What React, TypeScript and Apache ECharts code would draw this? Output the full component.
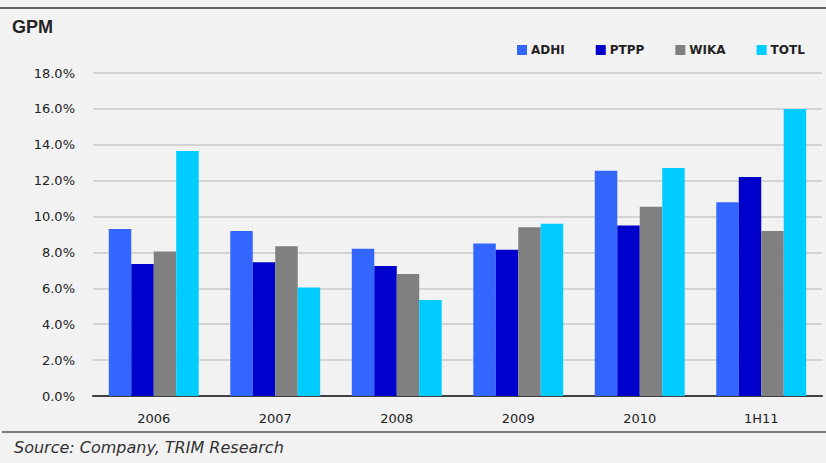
import React, { useEffect, useRef } from "react";
import * as echarts from "echarts";

const categories = ["2006", "2007", "2008", "2009", "2010", "1H11"];
const adhi = [9.3, 9.2, 8.2, 8.5, 12.55, 10.8];
const ptpp = [7.35, 7.45, 7.25, 8.15, 9.5, 12.2];
const wika = [8.05, 8.35, 6.8, 9.4, 10.55, 9.2];
const totl = [13.65, 6.05, 5.35, 9.6, 12.7, 16.0];
const seriesNames = ["ADHI", "PTPP", "WIKA", "TOTL"];
const seriesColors = ["#3366ff", "#0000cc", "#808080", "#00ccff"];

export default function App() {
  const ref = useRef<HTMLDivElement>(null);
  useEffect(() => {
    if (!ref.current) return;
    const chart = echarts.init(ref.current, null, { renderer: "svg" });
    const wide = "'DejaVu Sans', 'Liberation Sans', sans-serif";
    const narrow = "'Liberation Sans', Arial, sans-serif";
    const data = [adhi, ptpp, wika, totl];
    chart.setOption({
      animation: false,
      backgroundColor: "#f2f2f2",
      textStyle: { fontFamily: wide },
      grid: { left: 93, right: 4, top: 73, bottom: 67 },
      legend: {
        left: 512,
        top: 39,
        itemWidth: 10,
        itemHeight: 10,
        itemGap: 31,
        icon: "rect",
        data: seriesNames,
        textStyle: { fontFamily: wide, fontSize: 12, fontWeight: "bold", color: "#222", padding: [0, 0, 0, -1] },
      },
      xAxis: {
        type: "category",
        data: categories,
        axisLine: { lineStyle: { color: "#404040", width: 2 } },
        axisTick: { show: false },
        axisLabel: { color: "#222", fontSize: 13, margin: 16, fontFamily: wide },
      },
      yAxis: {
        type: "value",
        min: 0,
        max: 18,
        interval: 2,
        axisLine: { show: false },
        axisTick: { show: false },
        splitLine: { lineStyle: { color: "#c8c8c8", width: 1.5 } },
        axisLabel: {
          color: "#222",
          fontSize: 13,
          margin: 18,
          fontFamily: wide,
          formatter: (v: number) => v.toFixed(1) + "%",
        },
      },
      series: seriesNames.map((name, i) => ({
        name,
        type: "bar",
        data: data[i],
        barGap: "0%",
        barCategoryGap: "26%",
        itemStyle: { color: seriesColors[i] },
      })),
      graphic: [
        { type: "line", shape: { x1: 0, y1: 8, x2: 826, y2: 8 }, style: { stroke: "#333", lineWidth: 1.5 } },
        { type: "line", shape: { x1: 2, y1: 432, x2: 826, y2: 432 }, style: { stroke: "#555", lineWidth: 1.5 } },
        {
          type: "text",
          left: 12,
          top: 18,
          style: { text: "GPM", fontSize: 18, fontWeight: "bold", fontFamily: narrow, fill: "#222" },
        },
        {
          type: "text",
          left: 14,
          top: 439,
          style: {
            text: "Source: Company, TRIM Research",
            fontSize: 16,
            fontStyle: "italic",
            fontFamily: wide,
            fill: "#333",
          },
        },
      ],
    });
    return () => chart.dispose();
  }, []);
  return (
    <div
      ref={ref}
      style={{ position: "absolute", left: 0, top: 0, width: 826, height: 463 }}
    />
  );
}
